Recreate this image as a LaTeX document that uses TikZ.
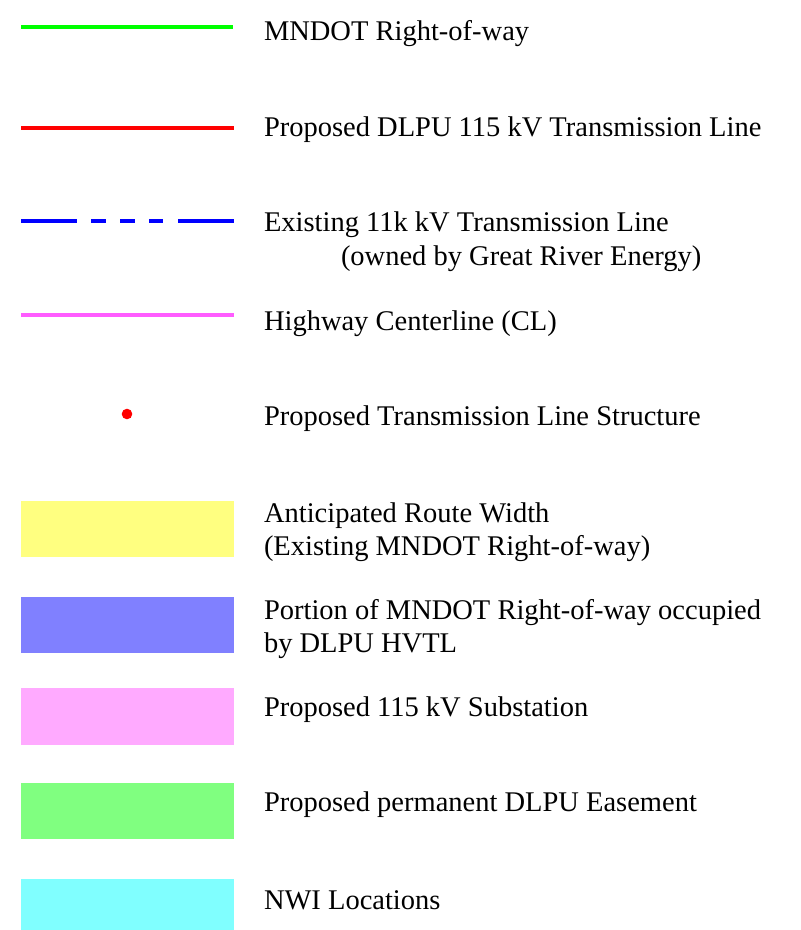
\documentclass[tikz,border=0pt]{standalone}
\usepackage{fontspec}
\setmainfont{Liberation Serif}
\begin{document}
\begin{tikzpicture}[x=1bp,y=-1bp,
  lbl/.style={anchor=base west,inner sep=0pt,outer sep=0pt,font=\fontsize{28.5bp}{33bp}\selectfont},
  legline/.style={line width=4bp},
  legbox/.style={draw=none}]
\useasboundingbox (0,0) rectangle (801,930);
\clip (0,0) rectangle (801,930);
\definecolor{lgreen}{HTML}{00FF00}
\definecolor{lred}{HTML}{FF0000}
\definecolor{lblue}{HTML}{0000FF}
\definecolor{lmag}{HTML}{FF5CFF}
\definecolor{fyellow}{HTML}{FFFF80}
\definecolor{fblue}{HTML}{8080FF}
\definecolor{fpink}{HTML}{FFAAFF}
\definecolor{fgreen}{HTML}{80FF80}
\definecolor{fcyan}{HTML}{80FFFF}
% lines
\coordinate (g1) at (21,27); \coordinate (g2) at (233,27);
\draw[legline,lgreen] (g1) -- (g2);
\coordinate (r1) at (21,128); \coordinate (r2) at (234,128);
\draw[legline,lred] (r1) -- (r2);
\coordinate (b1) at (21,221); \coordinate (b2) at (234,221);
\draw[legline,lblue,dash pattern=on 56bp off 14bp on 15bp off 14bp on 15bp off 14bp on 14bp off 15bp on 60bp] (b1) -- (b2);
\coordinate (m1) at (21,314.5); \coordinate (m2) at (234,314.5);
\draw[legline,lmag] (m1) -- (m2);
\fill[lred] (127,414) circle (5.3bp);
% boxes
\fill[fyellow] (21,501) rectangle (234,557);
\fill[fblue] (21,597) rectangle (234,653);
\fill[fpink] (21,688) rectangle (234,745);
\fill[fgreen] (21,783) rectangle (234,839);
\fill[fcyan] (21,879) rectangle (234,935);
% labels
\node[lbl] (t1) at (264,40.3) {MNDOT Right-of-way};
\node[lbl] (t2) at (264,136) {Proposed DLPU 115 kV Transmission Line};
\node[lbl] (t3) at (264,231) {Existing 11k kV Transmission Line};
\node[lbl] (t3b) at (341,265) {(owned by Great River Energy)};
\node[lbl] (t4) at (264,330.5) {Highway Centerline (CL)};
\node[lbl] (t5) at (264,425.5) {Proposed Transmission Line Structure};
\node[lbl] (t6) at (264,522) {Anticipated Route Width};
\node[lbl] (t6b) at (264,555) {(Existing MNDOT Right-of-way)};
\node[lbl] (t7) at (264,619.5) {Portion of MNDOT Right-of-way occupied};
\node[lbl] (t7b) at (264,652.5) {by DLPU HVTL};
\node[lbl] (t8) at (264,716) {Proposed 115 kV Substation};
\node[lbl] (t9) at (264,811.7) {Proposed permanent DLPU Easement};
\node[lbl] (t10) at (264,909) {NWI Locations};
\end{tikzpicture}
\end{document}
